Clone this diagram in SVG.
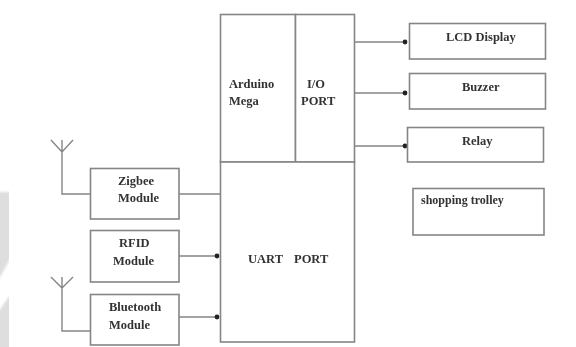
<svg xmlns="http://www.w3.org/2000/svg" width="576" height="347" viewBox="0 0 576 347">
<style>
.b{fill:#fff;stroke:#858585;stroke-width:1.6}
.c{fill:none;stroke:#858585;stroke-width:1.4}
text{font-family:"Liberation Serif","Times New Roman",serif;font-weight:bold;font-size:12.5px;fill:#333}
</style>
<defs>
<filter id="s" x="-5%" y="-5%" width="110%" height="110%"><feGaussianBlur stdDeviation="0.55"/></filter>
<filter id="w" x="-50%" y="-5%" width="200%" height="110%"><feGaussianBlur stdDeviation="1.2"/></filter>
<marker id="a" markerWidth="7" markerHeight="7" refX="3.500" refY="3.500" markerUnits="userSpaceOnUse"><circle cx="3.500" cy="3.500" r="2.4" fill="#222"/></marker>
</defs>
<rect width="576" height="347" fill="#fff"/>
<clipPath id="edge"><rect width="9" height="347"/></clipPath>
<g clip-path="url(#edge)"><path d="M-6 192H15V250L-6 288ZM-6 318L15 288V355H-6Z" fill="#dedede" filter="url(#w)"/></g>
<g filter="url(#s)">
<g id="connectors">
<path class="c" d="M355 42H405" marker-end="url(#a)"/>
<path class="c" d="M355 93H405" marker-end="url(#a)"/>
<path class="c" d="M355 146H405" marker-end="url(#a)"/>
<path class="c" d="M179 194H221"/>
<path class="c" d="M179 256H217" marker-end="url(#a)"/>
<path class="c" d="M179 317H217" marker-end="url(#a)"/>
<path class="c" d="M90 194H62V152M51 140L62 152L73 140M62 140V152"/>
<path class="c" d="M90 331H62V288M51 277L62 288L73 277M62 277V288"/>
</g>
<g id="arduino"><rect class="b" x="220.500" y="14.500" width="75" height="147.500"/><text x="229" y="88">Arduino</text><text x="229" y="105">Mega</text></g>
<g id="io-port"><rect class="b" x="295.500" y="14.500" width="59" height="147.500"/><text x="307" y="88">I/O</text><text x="301" y="105">PORT</text></g>
<g id="uart-port"><rect class="b" x="220.500" y="162" width="134" height="180"/><text x="248" y="263">UART</text><text x="294" y="263">PORT</text></g>
<g id="lcd"><rect class="b" x="409.500" y="23.500" width="136" height="35.500"/><text x="446" y="41">LCD Display</text></g>
<g id="buzzer"><rect class="b" x="409.500" y="73.500" width="136" height="35.500"/><text x="462" y="91">Buzzer</text></g>
<g id="relay"><rect class="b" x="407.500" y="127.500" width="136" height="34.500"/><text x="462" y="145">Relay</text></g>
<g id="shopping-trolley"><rect class="b" x="413" y="188.500" width="131" height="46.500"/><text x="421" y="204" style="font-size:12px">shopping trolley</text></g>
<g id="zigbee"><rect class="b" x="90.500" y="168.500" width="88.500" height="50.500"/><text x="118" y="185">Zigbee</text><text x="118" y="202">Module</text></g>
<g id="rfid"><rect class="b" x="90.500" y="230.500" width="88.500" height="51.500"/><text x="119" y="247">RFID</text><text x="113" y="265">Module</text></g>
<g id="bluetooth"><rect class="b" x="90.500" y="294.500" width="88.500" height="50.500"/><text x="109" y="311">Bluetooth</text><text x="109" y="329">Module</text></g>
</g>
</svg>
